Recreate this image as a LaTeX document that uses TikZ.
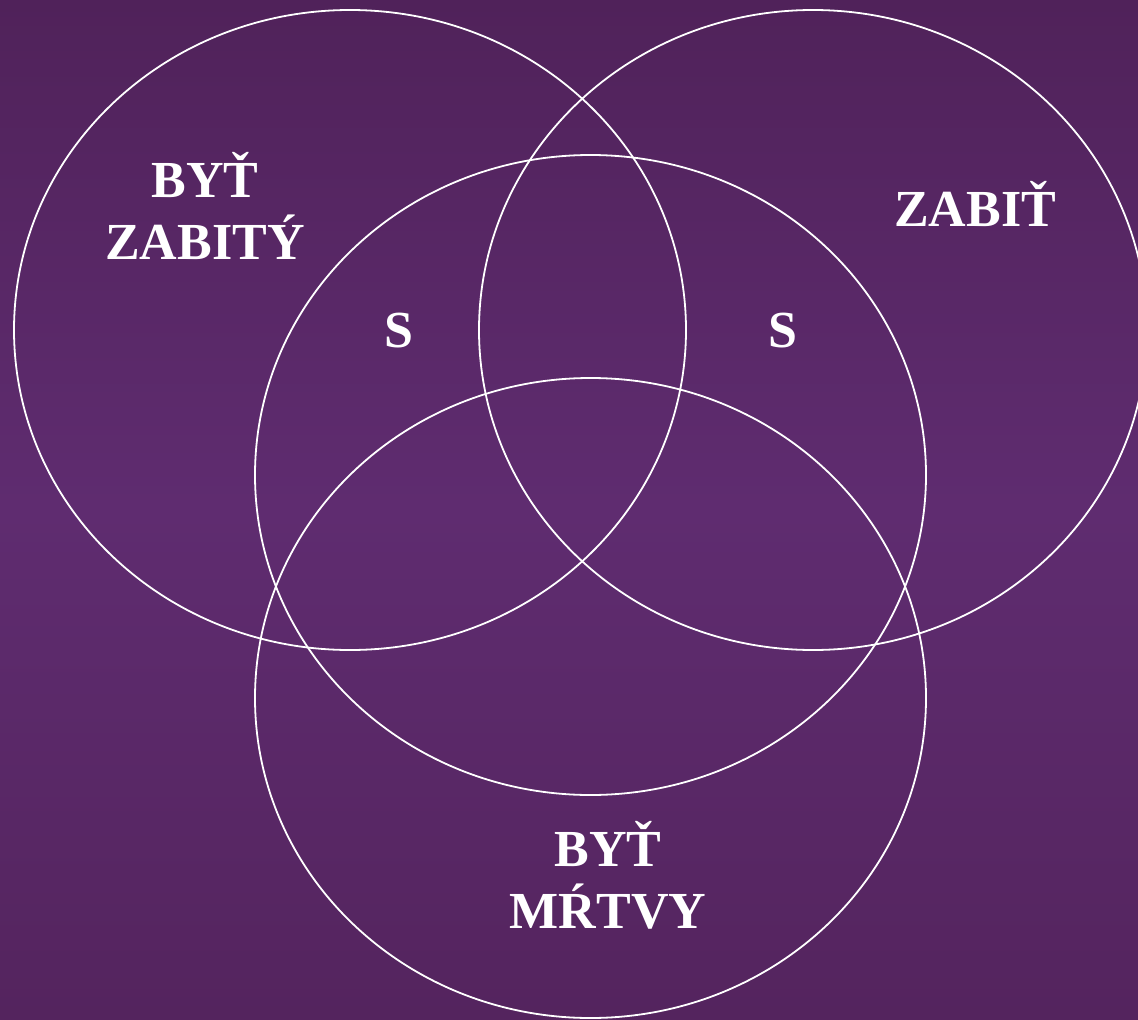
\documentclass[tikz,border=0pt]{standalone}
\usepackage{fontspec}
\setmainfont{Liberation Serif}
\definecolor{bgtop}{HTML}{50225A}
\definecolor{bgmid}{HTML}{5F2C70}
\definecolor{bgbot}{HTML}{54245E}
\begin{document}
\begin{tikzpicture}[x=1pt,y=-1pt,
  ring/.style={draw=white,line width=1.8pt},
  lbl/.style={text=white,font=\fontsize{52}{62}\selectfont\bfseries,align=center,inner sep=0pt,anchor=base}]
\useasboundingbox (0,0) rectangle (1138,1020);
\shade[top color=bgtop,bottom color=bgmid] (0,0) rectangle (1138,511);
\shade[top color=bgmid,bottom color=bgbot] (0,509) rectangle (1138,1020);
\begin{scope}
\clip (0,0) rectangle (1138,1020);
\draw[ring] (350,330) ellipse [x radius=336,y radius=320];
\draw[ring] (813,330) ellipse [x radius=334,y radius=320];
\draw[ring] (590.5,475) ellipse [x radius=335.5,y radius=320];
\draw[ring] (590.5,698) ellipse [x radius=335.5,y radius=320];
\end{scope}
\node[lbl] (bz) at (205,259) {BYŤ\\ZABITÝ};
\node[lbl] (z) at (975,226) {ZABIŤ};
\node[lbl] (s1) at (399,347) {S};
\node[lbl] (s2) at (783,347) {S};
\node[lbl] (bm) at (608,928) {BYŤ\\MŔTVY};
\end{tikzpicture}
\end{document}
